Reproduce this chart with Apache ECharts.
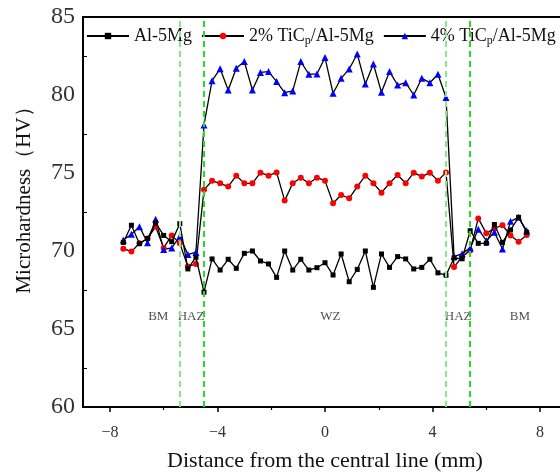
<!DOCTYPE html>
<html>
<head>
<meta charset="utf-8">
<script src="https://cdn.jsdelivr.net/npm/echarts@6/dist/echarts.min.js"></script>
<style>
  html, body { margin: 0; padding: 0; background: #fff; }
  #main { width: 560px; height: 474px; }
</style>
</head>
<body>
<div id="main"></div>
<script>
var serif = '"Liberation Serif", "DejaVu Serif", serif';

// distance from the central line (mm)
var xs = [-7.5, -7.2, -6.9, -6.6, -6.3, -6.0, -5.7, -5.4, -5.1, -4.8,
    -4.5, -4.2, -3.9, -3.6, -3.3, -3.0, -2.7, -2.4, -2.1, -1.8,
    -1.5, -1.2, -0.9, -0.6, -0.3, 0, 0.3, 0.6, 0.9, 1.2,
    1.5, 1.8, 2.1, 2.4, 2.7, 3.0, 3.3, 3.6, 3.9, 4.2,
    4.5, 4.8, 5.1, 5.4, 5.7, 6.0, 6.3, 6.6, 6.9, 7.2, 7.5];

var seriesNames = ['Al-5Mg', '2% TiCp/Al-5Mg', '4% TiCp/Al-5Mg'];

var hvAl = [70.55, 71.65, 70.47, 70.8, 71.8, 71.0, 70.6, 71.75, 68.85, 69.6,
    67.36, 69.49, 68.78, 69.47, 68.89, 69.85, 70.0, 69.36, 69.17, 68.31,
    70.0, 68.78, 69.47, 68.78, 68.93, 69.25, 68.46, 69.81, 68.03, 68.82,
    70.0, 67.67, 69.81, 68.95, 69.64, 69.49, 68.85, 68.95, 69.47, 68.6,
    68.45, 69.55, 69.5, 71.3, 70.49, 70.49, 71.7, 70.55, 71.35, 72.16, 71.2];

var hv2 = [70.15, 69.96, 70.5, 70.8, 71.56, 70.2, 71.0, 70.49, 69.0, 69.17,
    73.92, 74.5, 74.34, 74.13, 74.83, 74.34, 74.34, 75.02, 74.83, 75.04,
    73.23, 74.34, 74.7, 74.34, 74.7, 74.51, 73.06, 73.59, 73.38, 74.13,
    74.83, 74.34, 73.74, 74.34, 74.87, 74.34, 75.02, 74.77, 75.02, 74.51,
    75.04, 68.97, 69.64, 70.04, 72.09, 71.13, 71.45, 71.65, 71.0, 70.6, 71.03];

var hv4 = [70.7, 71.07, 71.56, 70.53, 72.03, 70.1, 70.2, 70.94, 69.77, 69.92,
    78.08, 80.92, 81.68, 80.32, 81.71, 82.14, 80.32, 81.45, 81.5, 80.86,
    80.15, 80.26, 82.14, 81.33, 81.35, 82.4, 80.11, 81.07, 81.67, 82.63,
    80.71, 81.99, 80.17, 81.5, 80.64, 80.79, 80.0, 81.07, 80.79, 81.33,
    79.84, 69.64, 69.83, 70.2, 71.4, 70.66, 71.2, 70.13, 71.9, 72.16, 71.3];

// zone boundaries and zone labels
var zoneLines = [-5.4, -4.5, 4.5, 5.4];
var zoneLineColors = ['#86e886', '#22dd22', '#86e886', '#22dd22'];
var zoneNames = ['BM', 'HAZ', 'WZ', 'HAZ', 'BM'];
var zoneX = [-6.2, -4.98, 0.2, 4.95, 7.25];
var zoneY = [65.77, 65.77, 65.77, 65.77, 65.77];

var majorTicks = [-8, -4, 0, 4, 8];
var minorTicks = [-6, -2, 2, 6];

function pairs(ys) {
    return xs.map(function (x, i) { return [x, ys[i]]; });
}

var chart = echarts.init(document.getElementById('main'));

var option = {
    backgroundColor: '#fff',
    animation: false,
    grid: {
        left: 83, top: 17, bottom: 67, right: -7,
        outerBoundsMode: 'none',
        show: true, borderColor: '#000', borderWidth: 2
    },
    legend: {
        left: 86, top: 27, width: 540, padding: 0,
        itemWidth: 42, itemHeight: 8, itemGap: 9,
        data: seriesNames,
        formatter: function (name) {
            return name.split('TiCp').map(function (s) {
                return s ? '{n|' + s + '}' : '';
            }).join('{n|TiC}{sub|p}');
        },
        textStyle: {
            color: '#111',
            rich: {
                n: { fontFamily: serif, fontSize: 18, color: '#111' },
                sub: { fontFamily: serif, fontSize: 12, color: '#111', padding: [9, 0, 0, 0] }
            }
        }
    },
    xAxis: [{
        type: 'value', min: -9, max: 9,
        name: 'Distance from the central line (mm)',
        nameLocation: 'middle', nameGap: 43,
        nameTextStyle: { fontFamily: serif, fontSize: 22, color: '#111' },
        axisLine: { lineStyle: { color: '#000', width: 2 } },
        axisTick: { customValues: majorTicks, length: 5, lineStyle: { color: '#000', width: 1.5 } },
        axisLabel: {
            customValues: majorTicks, margin: 18,
            fontFamily: serif, fontSize: 16, color: '#333',
            formatter: function (v) { return String(v).replace('-', '\u2212'); }
        },
        splitLine: { show: false }
    }, {
        type: 'value', min: -9, max: 9, position: 'bottom',
        axisLine: { show: false },
        axisTick: { customValues: minorTicks, length: 3, lineStyle: { color: '#000', width: 1.2 } },
        axisLabel: { show: false },
        splitLine: { show: false }
    }],
    yAxis: {
        type: 'value', min: 60, max: 85, interval: 5,
        name: 'Microhardness\uff08HV\uff09',
        nameLocation: 'middle', nameGap: 48,
        nameTextStyle: { fontFamily: serif, fontSize: 21, color: '#111', padding: [0, 0, 0, 34] },
        axisLine: { show: true, onZero: false, lineStyle: { color: '#000', width: 2 } },
        axisTick: { show: false, inside: true },
        minorTick: { show: true, splitNumber: 2, length: 4, lineStyle: { color: '#000', width: 1 } },
        axisLabel: { fontFamily: serif, fontSize: 24, color: '#333', margin: 8 },
        splitLine: { show: false }
    },
    series: [{
        name: seriesNames[0], type: 'line', data: pairs(hvAl),
        symbol: 'rect', symbolSize: 5,
        itemStyle: { color: '#000' },
        lineStyle: { color: '#000', width: 1.3 },
        markLine: {
            silent: true, symbol: 'none', label: { show: false },
            data: zoneLines.map(function (x, i) {
                return { xAxis: x, lineStyle: { color: zoneLineColors[i], type: [6, 4], width: 2 } };
            })
        },
        z: 3
    }, {
        name: seriesNames[1], type: 'line', data: pairs(hv2),
        symbol: 'circle', symbolSize: 6,
        itemStyle: { color: '#ff0000' },
        lineStyle: { color: '#000', width: 1.3 },
        z: 2
    }, {
        name: seriesNames[2], type: 'line', data: pairs(hv4),
        symbol: 'triangle', symbolSize: 7,
        itemStyle: { color: '#0000ff' },
        lineStyle: { color: '#000', width: 1.3 },
        z: 2
    }, {
        type: 'scatter', symbolSize: 0, silent: true,
        data: zoneX.map(function (x, i) { return [x, zoneY[i], zoneNames[i]]; }),
        label: {
            show: true, position: 'inside',
            formatter: function (p) { return p.value[2]; },
            fontFamily: serif, fontSize: 13, color: '#222'
        }
    }]
};

chart.setOption(option);
</script>
</body>
</html>
